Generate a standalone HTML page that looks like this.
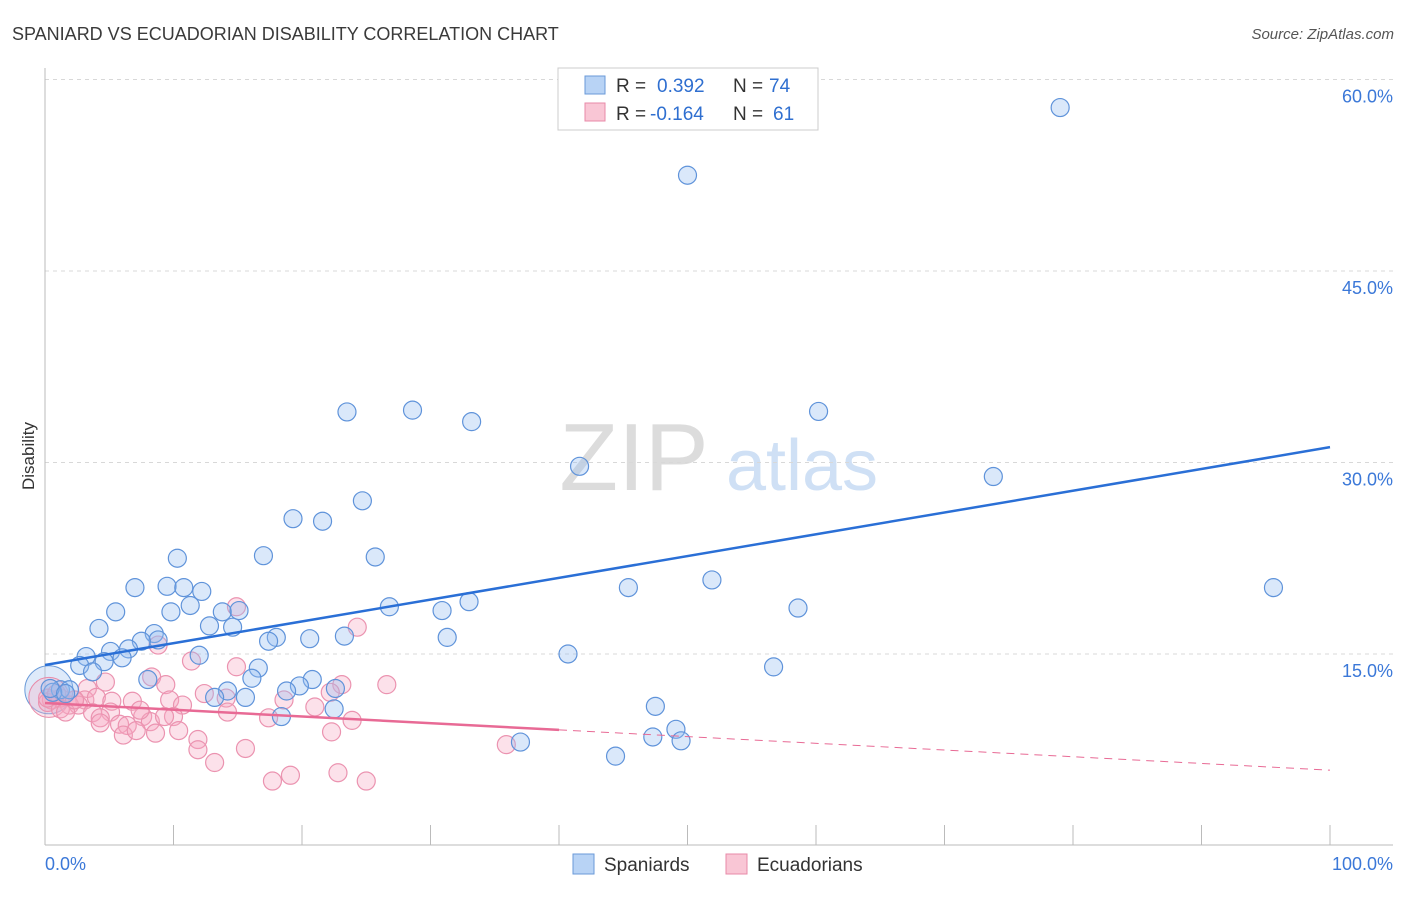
<!DOCTYPE html>
<html><head><meta charset="utf-8">
<style>
body{margin:0;background:#fff;font-family:"Liberation Sans",sans-serif;}
svg text{font-family:"Liberation Sans",sans-serif;}
</style></head>
<body>
<svg id="chart" width="1406" height="892" viewBox="0 0 1406 892" xmlns="http://www.w3.org/2000/svg">
<text x="12" y="40" font-size="18" fill="#3a3a3a">SPANIARD VS ECUADORIAN DISABILITY CORRELATION CHART</text>
<text x="1394" y="39" font-size="15" fill="#555" font-style="italic" text-anchor="end">Source: ZipAtlas.com</text>
<g>
<text x="634" y="490" font-size="96" fill="#dcdcdc" font-family="Liberation Serif" text-anchor="middle">ZIP</text>
<text x="802" y="490" font-size="72" fill="#cfe0f5" text-anchor="middle">atlas</text>
</g>
<g id="grid"></g>
<g id="axes"></g>
<g id="pts"></g>
<g id="trends"></g>
<text transform="translate(34,456) rotate(-90)" font-size="17" fill="#333" text-anchor="middle">Disability</text>
<g>
<rect x="558" y="68" width="260" height="62" fill="#fff" stroke="#ccc"/>
<rect x="585" y="76" width="20" height="18" fill="#b8d3f5" stroke="#6a9ad8"/>
<text x="616" y="92" font-size="19" fill="#333">R = </text><text x="657" y="92" font-size="19" fill="#2f6fd0">0.392</text>
<text x="733" y="92" font-size="19" fill="#333">N = </text><text x="769" y="92" font-size="19" fill="#2f6fd0">74</text>
<rect x="585" y="103" width="20" height="18" fill="#f9c6d5" stroke="#e88aa8"/>
<text x="616" y="120" font-size="19" fill="#333">R = </text><text x="650" y="120" font-size="19" fill="#2f6fd0">-0.164</text>
<text x="733" y="120" font-size="19" fill="#333">N = </text><text x="773" y="120" font-size="19" fill="#2f6fd0">61</text>
</g>
<g>
<rect x="573" y="854" width="21" height="20" fill="#b8d3f5" stroke="#6a9ad8"/>
<text x="604" y="871" font-size="19" fill="#333">Spaniards</text>
<rect x="726" y="854" width="21" height="20" fill="#f9c6d5" stroke="#e88aa8"/>
<text x="757" y="871" font-size="19" fill="#333">Ecuadorians</text>
</g>
</svg>
<script>
const yTicks=[15,30,45,60];
const yTickLabels=["15.0%","30.0%","45.0%","60.0%"];
const xTickLabels=["0.0%","100.0%"];
const blueX=[79.0,50.0,23.5,28.6,33.2,60.2,41.6,73.8,24.7,19.3,21.6,17.0,25.7,10.3,7.0,9.5,10.8,12.2,45.4,51.9,95.6,5.5,9.8,11.3,13.8,15.1,26.8,30.9,33.0,58.6,4.2,12.8,14.6,8.5,8.8,7.5,6.5,5.1,3.2,2.7,4.6,6.0,18.0,17.4,20.6,23.3,31.3,40.7,56.7,12.0,16.6,3.7,8.0,16.1,14.2,20.8,19.8,18.8,22.6,22.5,13.2,15.6,47.5,49.1,47.3,49.5,37.0,44.4,18.4,1.2,1.9,0.6,0.4,1.6];
const blueY=[57.8,52.5,33.96,34.1,33.2,34.0,29.7,28.9,27.0,25.6,25.4,22.7,22.6,22.5,20.2,20.3,20.2,19.9,20.2,20.8,20.2,18.3,18.3,18.8,18.3,18.4,18.7,18.4,19.1,18.6,17.0,17.2,17.1,16.6,16.1,16.0,15.4,15.2,14.8,14.1,14.4,14.7,16.3,16.0,16.2,16.4,16.3,15.0,13.99,14.9,13.9,13.6,13.0,13.1,12.1,13.0,12.5,12.1,12.3,10.7,11.6,11.6,10.9,9.1,8.5,8.2,8.1,7.0,10.1,12.2,12.2,12.0,12.3,11.9];
const pinkX=[14.9,24.3,8.8,11.4,14.9,8.3,4.7,9.4,3.3,26.6,23.1,0.5,1.2,2.3,3.1,4.0,5.2,6.8,9.7,10.7,12.4,14.1,18.6,21.0,22.2,0.2,1.9,2.6,3.7,5.1,4.3,5.8,6.4,7.6,8.2,10.0,9.3,14.2,17.4,23.9,4.3,6.1,7.1,8.6,10.4,11.9,11.9,15.6,13.2,35.9,17.7,19.1,22.8,25.0,22.3,1.2,1.6,2.3,0.2,0.9,7.4];
const pinkY=[18.7,17.1,15.7,14.45,14.0,13.2,12.8,12.6,12.3,12.6,12.6,11.4,11.55,11.4,11.4,11.6,11.3,11.3,11.4,11.0,11.9,11.55,11.4,10.85,12.0,11.2,11.0,11.0,10.4,10.45,10.0,9.5,9.4,10.1,9.7,10.1,10.1,10.45,10.0,9.8,9.6,8.65,9.0,8.8,9.0,8.3,7.5,7.6,6.5,7.9,5.05,5.5,5.7,5.05,8.9,10.7,10.45,11.4,11.55,11.9,10.6];
const blueTrend=[14.14,31.2];
const pinkTrend=[11.16,5.9];
const pinkSolidEnd=40;

const NS="http://www.w3.org/2000/svg";
const X0=45,X1=1330,Y0=845.5,YS=12.767;
const sx=v=>X0+(X1-X0)*v/100;
const sy=v=>Y0-v*YS;
function mk(tag,attrs,parent){const e=document.createElementNS(NS,tag);for(const k in attrs)e.setAttribute(k,attrs[k]);parent.appendChild(e);return e;}
const grid=document.getElementById('grid'),axes=document.getElementById('axes'),pts=document.getElementById('pts'),tr=document.getElementById('trends');
yTicks.forEach((t,i)=>{
 const l=mk('line',{x1:45,x2:1393,y1:sy(t),y2:sy(t),stroke:'#d8d8d8','stroke-dasharray':'4,4'},grid);
 
 
 const tx=mk('text',{x:1393,y:sy(t)+23,'font-size':18,fill:'#3b78d8','text-anchor':'end'},axes);
 tx.textContent=yTickLabels[i];
 
 
});
mk('line',{x1:45,x2:45,y1:68,y2:845,stroke:'#bbb'},axes);
mk('line',{x1:45,x2:1393,y1:845,y2:845,stroke:'#bbb'},axes);
for(let k=1;k<=10;k++){
 const t=mk('line',{x1:sx(k*10),x2:sx(k*10),y1:825,y2:845,stroke:'#bbb'},axes);
 
 
}
const xl0=mk('text',{x:45,y:870,'font-size':18,fill:'#3b78d8'},axes);xl0.textContent=xTickLabels[0];


const xl1=mk('text',{x:1393,y:870,'font-size':18,fill:'#3b78d8','text-anchor':'end'},axes);xl1.textContent=xTickLabels[1];



const bb=mk('circle',{cx:sx(0.3),cy:sy(12.2),r:24,fill:'rgba(160,195,240,0.35)',stroke:'#6a9ad8'},pts);


const pb=mk('circle',{cx:sx(0.3),cy:sy(11.6),r:20,fill:'rgba(245,180,200,0.35)',stroke:'#e88aa8'},pts);


pinkX.forEach((x,i)=>{
 const c=mk('circle',{cx:sx(x),cy:sy(pinkY[i]),r:9,fill:'rgba(245,170,195,0.35)',stroke:'#eb93b0','stroke-width':1.2},pts);
 
 
});
blueX.forEach((x,i)=>{
 const c=mk('circle',{cx:sx(x),cy:sy(blueY[i]),r:9,fill:'rgba(150,190,240,0.35)',stroke:'#5f93da','stroke-width':1.2},pts);
 
 
});
const bl=mk('line',{x1:sx(0),y1:sy(blueTrend[0]),x2:sx(100),y2:sy(blueTrend[1]),stroke:'#2a6fd6','stroke-width':2.5},tr);


const pAt=v=>pinkTrend[0]+(pinkTrend[1]-pinkTrend[0])*v/100;
const pl=mk('line',{x1:sx(0),y1:sy(pAt(0)),x2:sx(pinkSolidEnd),y2:sy(pAt(pinkSolidEnd)),stroke:'#e86a95','stroke-width':2.5},tr);


const pd=mk('line',{x1:sx(pinkSolidEnd),y1:sy(pAt(pinkSolidEnd)),x2:sx(100),y2:sy(pAt(100)),stroke:'#e86a95','stroke-width':1,'stroke-dasharray':'8,6'},tr);


</script>
</body></html>
